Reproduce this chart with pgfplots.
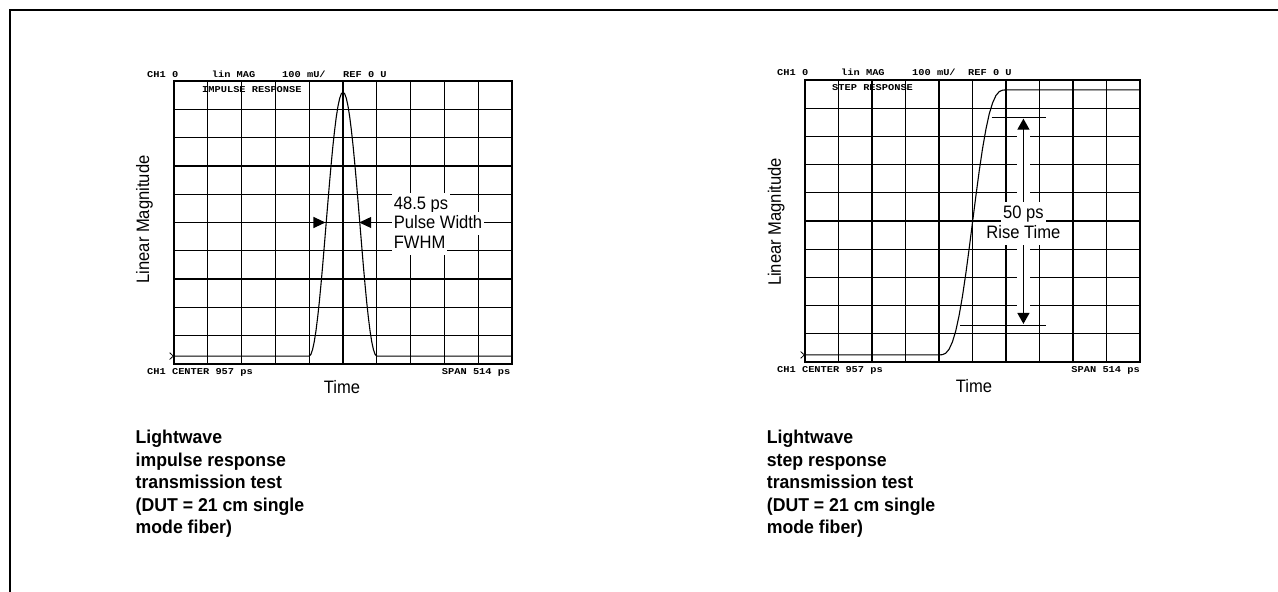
\documentclass[border=0pt]{standalone}
\usepackage{fontspec}
\setmainfont{Liberation Sans}
\newfontfamily\lbl[FakeStretch=0.92]{Liberation Sans}
\newfontfamily\capf[FakeStretch=0.95]{Liberation Sans}
\newfontfamily\plt[FakeStretch=1.15]{Liberation Mono}
\usepackage{pgfplots}
\pgfplotsset{compat=1.18}
\usetikzlibrary{arrows.meta}
\pgfplotsset{vna/.style={
  scale only axis, anchor=south west,
  xmin=0, xmax=10, ymin=0, ymax=10,
  xtick={0,...,10}, ytick={0,...,10},
  xticklabels={}, yticklabels={},
  major tick length=0pt,
  grid=major, major grid style={black, line width=1.35pt},
  axis line style={black, line width=1.6pt},
  clip=false}}
\tikzset{
  pt/.style={font=\plt\bfseries\fontsize{9}{9}\selectfont, inner sep=0pt},
  lb/.style={font=\lbl\fontsize{18}{20}\selectfont, inner sep=0pt},
  an/.style={font=\lbl\fontsize{18}{20}\selectfont, fill=white, inner xsep=2pt, inner ysep=2.5pt, text height=14pt, text depth=4pt},
  cp/.style={font=\capf\bfseries\fontsize{18.6}{22}\selectfont, inner sep=0pt, anchor=base west},
  ah/.style={line width=1.2pt}
}
\begin{document}
\begin{tikzpicture}
\path[use as bounding box] (0pt,0pt) rectangle (1278pt,592pt);
\draw[line width=1.3pt] (10pt,0pt) -- (10pt,582pt) -- (1278pt,582pt);

% ---------------- left: impulse response ----------------
\begin{axis}[vna, at={(174pt,228pt)}, width=338pt, height=283pt]
\addplot[black, line width=1.1pt] coordinates {
(0,0.28) (4,0.28) (4.05,0.34) (4.1,0.51) (4.15,0.79) (4.2,1.17) (4.25,1.65)
(4.3,2.20) (4.35,2.83) (4.4,3.50) (4.45,4.22) (4.5,4.95) (4.55,5.67) (4.6,6.39)
(4.65,7.06) (4.7,7.69) (4.75,8.24) (4.8,8.72) (4.85,9.10) (4.9,9.38) (4.95,9.55)
(5,9.61) (5.05,9.55) (5.1,9.38) (5.15,9.10) (5.2,8.72) (5.25,8.24) (5.3,7.69)
(5.35,7.06) (5.4,6.39) (5.45,5.67) (5.5,4.95) (5.55,4.22) (5.6,3.50) (5.65,2.83)
(5.7,2.20) (5.75,1.65) (5.8,1.17) (5.85,0.79) (5.9,0.51) (5.95,0.34) (6,0.28) (10,0.28)};
\draw[line width=0.8pt] (axis cs:-0.13,0.40) -- (axis cs:-0.02,0.28) -- (axis cs:-0.13,0.16);
\draw[ah, -{Triangle[length=12pt,width=11pt]}] (axis cs:3.45,5) -- (axis cs:4.48,5);
\draw[ah, -{Triangle[length=12pt,width=11pt]}] (axis cs:6.48,5) -- (axis cs:5.48,5);
\draw[ah] (axis cs:6.5,5) -- (axis cs:9.55,5);
\node[an, anchor=base west] at (axis cs:6.44,5.47) {48.5 ps};
\node[an, anchor=base west] at (axis cs:6.44,4.79) {Pulse Width};
\node[an, anchor=base west] at (axis cs:6.44,4.09) {FWHM};
\end{axis}

\node[pt, anchor=base west] at (147pt,514pt) {CH1 0};
\node[pt, anchor=base west] at (211.7pt,514pt) {lin MAG};
\node[pt, anchor=base west] at (282pt,514pt) {100 mU/};
\node[pt, anchor=base west] at (343pt,514pt) {REF 0 U};
\node[pt, anchor=base west] at (202pt,499.7pt) {IMPULSE RESPONSE};
\node[pt, anchor=base west] at (147pt,217.5pt) {CH1 CENTER 957 ps};
\node[pt, anchor=base east] at (510.5pt,217.5pt) {SPAN 514 ps};
\node[lb] at (342pt,204.5pt) {Time};
\node[lb, rotate=90] at (144.5pt,372.5pt) {Linear Magnitude};

\node[cp] at (135.5pt,148pt) {Lightwave};
\node[cp] at (135.5pt,125.5pt) {impulse response};
\node[cp] at (135.5pt,103pt) {transmission test};
\node[cp] at (135.5pt,80.5pt) {(DUT = 21 cm single};
\node[cp] at (135.5pt,58pt) {mode fiber)};

% ---------------- right: step response ----------------
\begin{axis}[vna, at={(805pt,230pt)}, width=335pt, height=282pt]
\addplot[black, line width=1.1pt] coordinates {
(0,0.25) (4,0.25) (4.1,0.26) (4.2,0.31) (4.3,0.45) (4.4,0.71) (4.5,1.10)
(4.6,1.65) (4.7,2.33) (4.8,3.13) (4.9,4.02) (5,4.95) (5.1,5.88) (5.2,6.77)
(5.3,7.57) (5.4,8.25) (5.5,8.80) (5.6,9.19) (5.7,9.45) (5.8,9.59) (5.9,9.64)
(6,9.65) (10,9.65)};
\draw[line width=0.8pt] (axis cs:-0.13,0.37) -- (axis cs:-0.02,0.25) -- (axis cs:-0.13,0.13);
\draw[white, line width=13pt] (axis cs:6.52,8.55) -- (axis cs:6.52,1.42);
\draw[ah, {Triangle[length=11pt,width=12pt]}-{Triangle[length=11pt,width=12pt]}] (axis cs:6.52,8.63) -- (axis cs:6.52,1.35);
\draw[ah] (axis cs:5.57,8.68) -- (axis cs:7.18,8.68);
\draw[ah] (axis cs:4.63,1.29) -- (axis cs:7.18,1.29);
\node[an, anchor=base] at (axis cs:6.52,5.10) {50 ps};
\node[an, anchor=base] at (axis cs:6.52,4.39) {Rise Time};
\end{axis}

\node[pt, anchor=base west] at (777pt,516pt) {CH1 0};
\node[pt, anchor=base west] at (841pt,516pt) {lin MAG};
\node[pt, anchor=base west] at (912pt,516pt) {100 mU/};
\node[pt, anchor=base west] at (968pt,516pt) {REF 0 U};
\node[pt, anchor=base west] at (832pt,501.3pt) {STEP RESPONSE};
\node[pt, anchor=base west] at (777pt,219.5pt) {CH1 CENTER 957 ps};
\node[pt, anchor=base east] at (1140pt,219.5pt) {SPAN 514 ps};
\node[lb] at (974pt,206pt) {Time};
\node[lb, rotate=90] at (776.3pt,370pt) {Linear Magnitude};

\node[cp] at (766.7pt,148pt) {Lightwave};
\node[cp] at (766.7pt,125.5pt) {step response};
\node[cp] at (766.7pt,103pt) {transmission test};
\node[cp] at (766.7pt,80.5pt) {(DUT = 21 cm single};
\node[cp] at (766.7pt,58pt) {mode fiber)};
\end{tikzpicture}
\end{document}
